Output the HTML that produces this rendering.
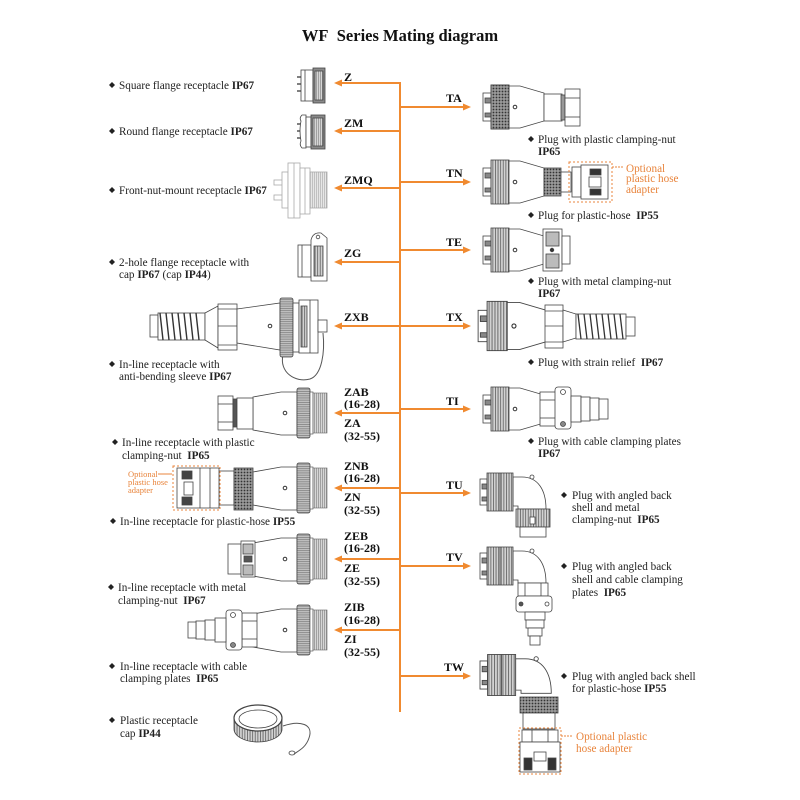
<!DOCTYPE html>
<html><head><meta charset="utf-8"><style>
html,body{margin:0;padding:0;background:#fff;}
svg{display:block;}
text{font-family:"Liberation Serif",serif;fill:#222;}
.d{font-size:11.2px;}
.b{font-weight:bold;}
.l{font-size:12px;font-weight:bold;fill:#111;}
.o{fill:#e8843c;}
</style></head><body>
<svg width="800" height="800" viewBox="0 0 800 800" xmlns="http://www.w3.org/2000/svg">
<defs>
<pattern id="st" width="2.6" height="10" patternUnits="userSpaceOnUse"><rect width="2.6" height="10" fill="#d2d2d2"/><rect width="0.9" height="10" fill="#6a6a6a"/></pattern>
<pattern id="kn" width="3" height="3" patternUnits="userSpaceOnUse"><rect width="3" height="3" fill="#9a9a9a"/><circle cx="1.5" cy="1.5" r="0.9" fill="#333"/></pattern>
<pattern id="thr" width="2" height="10" patternUnits="userSpaceOnUse"><rect width="2" height="10" fill="#d6d6d6"/><rect width="0.7" height="10" fill="#8a8a8a"/></pattern>
<pattern id="thrl" width="2" height="10" patternUnits="userSpaceOnUse"><rect width="2" height="10" fill="#e6e6e6"/><rect width="0.7" height="10" fill="#b0b0b0"/></pattern>
<pattern id="fl" width="10" height="2.2" patternUnits="userSpaceOnUse"><rect width="10" height="2.2" fill="#c0c0c0"/><rect width="10" height="0.7" fill="#7a7a7a"/></pattern>
<g id="ph">
 <rect x="1" y="-14" width="8" height="28" fill="#fff" stroke="#444" stroke-width="0.8"/>
 <rect x="3" y="-9" width="6" height="5" fill="#888"/>
 <rect x="3" y="6" width="6" height="4" fill="#888"/>
 <rect x="9" y="-22" width="18" height="44" fill="url(#st)" stroke="#444" stroke-width="0.8"/>
 <path d="M27,-21 H38 L62,-14 V14 L38,21 H27 Z" fill="#fff" stroke="#444" stroke-width="0.8"/>
 <circle cx="33" cy="0" r="1.8" fill="none" stroke="#333" stroke-width="1"/>
</g>
<g id="ah">
 <rect x="0" y="-13" width="7" height="26" fill="#fff" stroke="#444" stroke-width="0.8"/>
 <rect x="2" y="-8" width="5" height="5" fill="#888"/>
 <rect x="2" y="5" width="5" height="4" fill="#888"/>
 <path d="M33,-15 H42 C58,-15 66,-2 66,17 H38 V14 H33 Z" fill="#fff" stroke="#444" stroke-width="0.8"/>
 <rect x="7" y="-19" width="26" height="38" fill="url(#st)" stroke="#444" stroke-width="0.8"/>
 <line x1="20" y1="-19" x2="20" y2="19" stroke="#444" stroke-width="0.8"/>
 <circle cx="52" cy="-15" r="2" fill="#fff" stroke="#444" stroke-width="0.8"/>
</g>
<g id="rf">
 <path d="M253,-16 L281,-21 H297 V22 H281 L253,17 Z" fill="#fff" stroke="#444" stroke-width="0.8"/>
 <circle cx="285" cy="0" r="1.8" fill="none" stroke="#333" stroke-width="1"/>
 <rect x="297" y="-25" width="13" height="50" rx="2" fill="url(#fl)" stroke="#444" stroke-width="0.8"/>
 <rect x="310" y="-21" width="3" height="42" fill="#fff" stroke="#444" stroke-width="0.6"/>
 <rect x="313" y="-20" width="14" height="40" fill="url(#thr)" stroke="#666" stroke-width="0.6"/>
</g>
</defs>

<!-- Title -->
<text x="400" y="41" text-anchor="middle" style="font-size:16.5px;font-weight:bold;fill:#111">WF&#160; Series Mating diagram</text>

<!-- Orange connector network -->
<g stroke="#f08a30" stroke-width="2" fill="none">
 <line x1="400" y1="82" x2="400" y2="712"/>
 <line x1="340" y1="83" x2="400" y2="83"/>
 <line x1="340" y1="131" x2="400" y2="131"/>
 <line x1="340" y1="188" x2="400" y2="188"/>
 <line x1="340" y1="262" x2="400" y2="262"/>
 <line x1="340" y1="326" x2="400" y2="326"/>
 <line x1="340" y1="413" x2="400" y2="413"/>
 <line x1="340" y1="488" x2="400" y2="488"/>
 <line x1="340" y1="559" x2="400" y2="559"/>
 <line x1="340" y1="630" x2="400" y2="630"/>
 <line x1="400" y1="107" x2="465" y2="107"/>
 <line x1="400" y1="182" x2="465" y2="182"/>
 <line x1="400" y1="250" x2="465" y2="250"/>
 <line x1="400" y1="326" x2="465" y2="326"/>
 <line x1="400" y1="409" x2="465" y2="409"/>
 <line x1="400" y1="493" x2="465" y2="493"/>
 <line x1="400" y1="566" x2="465" y2="566"/>
 <line x1="400" y1="676" x2="465" y2="676"/>
</g>
<g fill="#f08a30">
 <polygon points="334,83 342,79.5 342,86.5"/>
 <polygon points="334,131 342,127.5 342,134.5"/>
 <polygon points="334,188 342,184.5 342,191.5"/>
 <polygon points="334,262 342,258.5 342,265.5"/>
 <polygon points="334,326 342,322.5 342,329.5"/>
 <polygon points="334,413 342,409.5 342,416.5"/>
 <polygon points="334,488 342,484.5 342,491.5"/>
 <polygon points="334,559 342,555.5 342,562.5"/>
 <polygon points="334,630 342,626.5 342,633.5"/>
 <polygon points="471,107 463,103.5 463,110.5"/>
 <polygon points="471,182 463,178.5 463,185.5"/>
 <polygon points="471,250 463,246.5 463,253.5"/>
 <polygon points="471,326 463,322.5 463,329.5"/>
 <polygon points="471,409 463,405.5 463,412.5"/>
 <polygon points="471,493 463,489.5 463,496.5"/>
 <polygon points="471,566 463,562.5 463,569.5"/>
 <polygon points="471,676 463,672.5 463,679.5"/>
</g>

<!-- Left labels -->
<text class="l" x="344" y="81">Z</text>
<text class="l" x="344" y="127">ZM</text>
<text class="l" x="344" y="184">ZMQ</text>
<text class="l" x="344" y="257">ZG</text>
<text class="l" x="344" y="321">ZXB</text>
<text class="l" x="344" y="396">ZAB</text><text class="l" x="344" y="408">(16-28)</text>
<text class="l" x="344" y="427">ZA</text><text class="l" x="344" y="440">(32-55)</text>
<text class="l" x="344" y="470">ZNB</text><text class="l" x="344" y="482">(16-28)</text>
<text class="l" x="344" y="501">ZN</text><text class="l" x="344" y="514">(32-55)</text>
<text class="l" x="344" y="540">ZEB</text><text class="l" x="344" y="552">(16-28)</text>
<text class="l" x="344" y="572">ZE</text><text class="l" x="344" y="585">(32-55)</text>
<text class="l" x="344" y="611">ZIB</text><text class="l" x="344" y="624">(16-28)</text>
<text class="l" x="344" y="643">ZI</text><text class="l" x="344" y="656">(32-55)</text>

<!-- Right labels -->
<text class="l" x="446" y="102">TA</text>
<text class="l" x="446" y="177">TN</text>
<text class="l" x="446" y="246">TE</text>
<text class="l" x="446" y="321">TX</text>
<text class="l" x="446" y="405">TI</text>
<text class="l" x="446" y="489">TU</text>
<text class="l" x="446" y="561">TV</text>
<text class="l" x="444" y="671">TW</text>

<!-- Diamonds -->
<g fill="#222">
 <polygon points="112,82 115,85 112,88 109,85"/>
 <polygon points="112,128 115,131 112,134 109,131"/>
 <polygon points="112,187 115,190 112,193 109,190"/>
 <polygon points="112,259 115,262 112,265 109,262"/>
 <polygon points="112,361 115,364 112,367 109,364"/>
 <polygon points="115,439 118,442 115,445 112,442"/>
 <polygon points="113,518 116,521 113,524 110,521"/>
 <polygon points="111,584 114,587 111,590 108,587"/>
 <polygon points="112,663 115,666 112,669 109,666"/>
 <polygon points="112,717 115,720 112,723 109,720"/>
 <polygon points="531,136 534,139 531,142 528,139"/>
 <polygon points="531,212 534,215 531,218 528,215"/>
 <polygon points="531,278 534,281 531,284 528,281"/>
 <polygon points="531,359 534,362 531,365 528,362"/>
 <polygon points="531,438 534,441 531,444 528,441"/>
 <polygon points="564,492 567,495 564,498 561,495"/>
 <polygon points="564,563 567,566 564,569 561,566"/>
 <polygon points="564,673 567,676 564,679 561,676"/>
</g>

<!-- Left descriptions -->
<text class="d" x="119" y="89">Square flange receptacle <tspan class="b">IP67</tspan></text>
<text class="d" x="119" y="135">Round flange receptacle <tspan class="b">IP67</tspan></text>
<text class="d" x="119" y="194">Front-nut-mount receptacle <tspan class="b">IP67</tspan></text>
<text class="d" x="119" y="266">2-hole flange receptacle with</text>
<text class="d" x="119" y="278">cap <tspan class="b">IP67</tspan> (cap <tspan class="b">IP44</tspan>)</text>
<text class="d" x="119" y="368">In-line receptacle with</text>
<text class="d" x="119" y="380">anti-bending sleeve <tspan class="b">IP67</tspan></text>
<text class="d" x="122" y="446">In-line receptacle with plastic</text>
<text class="d" x="122" y="459">clamping-nut&#160; <tspan class="b">IP65</tspan></text>
<text class="d" x="120" y="525">In-line receptacle for plastic-hose <tspan class="b">IP55</tspan></text>
<text class="d" x="118" y="591">In-line receptacle with metal</text>
<text class="d" x="118" y="604">clamping-nut&#160; <tspan class="b">IP67</tspan></text>
<text class="d" x="120" y="670">In-line receptacle with cable</text>
<text class="d" x="120" y="682">clamping plates&#160; <tspan class="b">IP65</tspan></text>
<text class="d" x="120" y="724">Plastic receptacle</text>
<text class="d" x="120" y="737">cap <tspan class="b">IP44</tspan></text>

<!-- Right descriptions -->
<text class="d" x="538" y="143">Plug with plastic clamping-nut</text>
<text class="d b" x="538" y="155">IP65</text>
<text class="d" x="538" y="219">Plug for plastic-hose&#160; <tspan class="b">IP55</tspan></text>
<text class="d" x="538" y="285">Plug with metal clamping-nut</text>
<text class="d b" x="538" y="297">IP67</text>
<text class="d" x="538" y="366">Plug with strain relief&#160; <tspan class="b">IP67</tspan></text>
<text class="d" x="538" y="445">Plug with cable clamping plates</text>
<text class="d b" x="538" y="457">IP67</text>
<text class="d" x="572" y="499">Plug with angled back</text>
<text class="d" x="572" y="511">shell and metal</text>
<text class="d" x="572" y="523">clamping-nut&#160; <tspan class="b">IP65</tspan></text>
<text class="d" x="572" y="570">Plug with angled back</text>
<text class="d" x="572" y="583">shell and cable clamping</text>
<text class="d" x="572" y="596">plates&#160; <tspan class="b">IP65</tspan></text>
<text class="d" x="572" y="680">Plug with angled back shell</text>
<text class="d" x="572" y="692">for plastic-hose <tspan class="b">IP55</tspan></text>

<!-- Orange optional texts -->
<text class="d o" x="626" y="172">Optional</text>
<text class="d o" x="626" y="182">plastic hose</text>
<text class="d o" x="626" y="193">adapter</text>
<line x1="612" y1="167" x2="623" y2="167" stroke="#e8843c" stroke-width="1" stroke-dasharray="2,1"/>
<text class="o" x="576" y="740" style="font-size:11.2px">Optional plastic</text>
<text class="o" x="576" y="752" style="font-size:11.2px">hose adapter</text>
<line x1="561" y1="736" x2="573" y2="736" stroke="#e8843c" stroke-width="1" stroke-dasharray="2,1"/>
<text class="o" x="128" y="477" style="font-size:8.5px">Optional</text>
<text class="o" x="128" y="485" style="font-size:8.5px">plastic hose</text>
<text class="o" x="128" y="493" style="font-size:8.5px">adapter</text>
<line x1="158" y1="474" x2="172" y2="474" stroke="#e8843c" stroke-width="1"/>

<!-- ===== RIGHT SIDE PLUGS ===== -->
<g stroke="#444" stroke-width="0.8">
<!-- TA -->
<use href="#ph" x="482" y="107"/>
<rect x="491" y="85" width="18" height="44" fill="url(#kn)"/>
<rect x="544" y="94" width="18" height="27" fill="#fff"/>
<rect x="561" y="95" width="4" height="25" fill="#999"/>
<rect x="565" y="89" width="15" height="37" fill="#fff"/>
<line x1="565" y1="98" x2="580" y2="98"/><line x1="565" y1="117" x2="580" y2="117"/>
<!-- TN -->
<use href="#ph" x="482" y="182"/>
<rect x="544" y="168" width="17" height="28" fill="url(#kn)"/>
<rect x="561" y="172" width="10" height="20" fill="#fff"/>
<rect x="572" y="167" width="9" height="30" fill="#fff"/>
<rect x="581" y="165" width="27" height="34" fill="#fff"/>
<rect x="590" y="169" width="11" height="6" fill="#333"/>
<rect x="590" y="189" width="11" height="6" fill="#333"/>
<rect x="589" y="177" width="12" height="10" fill="#fff"/>
<rect x="569" y="162" width="43" height="40" fill="none" stroke="#e8843c" stroke-width="1" stroke-dasharray="2,2"/>
<!-- TE -->
<use href="#ph" x="482" y="250"/>
<rect x="543" y="229" width="19" height="42" fill="#fff"/>
<rect x="546" y="232" width="13" height="14" fill="#bbb"/>
<rect x="546" y="254" width="13" height="14" fill="#bbb"/>
<circle cx="552" cy="250" r="1.8" fill="#333"/>
<rect x="562" y="236" width="8" height="28" fill="#fff"/>
<!-- TX -->
<use href="#ph" transform="translate(477,326) scale(1.12)"/>
<rect x="545" y="305" width="18" height="43" fill="#fff"/>
<line x1="545" y1="326" x2="563" y2="326"/>
<line x1="545" y1="311" x2="563" y2="311"/><line x1="545" y1="342" x2="563" y2="342"/>
<path d="M563,310 L576,314 V338 L563,342 Z" fill="#fff"/>
<rect x="576" y="314" width="50" height="25" fill="#fff"/>
<path d="M578,314 L581,339 M584,314 L587,339 M590,314 L593,339 M596,314 L599,339 M602,314 L605,339 M608,314 L611,339 M614,314 L617,339 M620,314 L623,339" stroke="#333" stroke-width="1.3" fill="none"/>
<rect x="626" y="317" width="9" height="19" fill="#fff"/>
<!-- TI -->
<use href="#ph" x="482" y="409"/>
<rect x="540" y="392" width="16" height="34" fill="#fff"/>
<line x1="540" y1="400" x2="556" y2="400"/><line x1="540" y1="418" x2="556" y2="418"/>
<rect x="555" y="387" width="16" height="42" rx="3" fill="#fff"/>
<circle cx="563" cy="392" r="2.5" fill="#fff"/><circle cx="563" cy="424" r="2.5" fill="#888"/>
<rect x="571" y="396" width="10" height="26" fill="#fff"/>
<rect x="581" y="397" width="9" height="24" fill="#fff"/>
<rect x="590" y="398" width="9" height="22" fill="#fff"/>
<rect x="599" y="399" width="9" height="20" fill="#fff"/>
<!-- TU -->
<use href="#ah" x="480" y="492"/>
<rect x="516" y="509" width="34" height="18" fill="url(#st)"/>
<rect x="530" y="517" width="5" height="7" fill="#fff"/>
<rect x="520" y="527" width="26" height="10" fill="#fff"/>
<!-- TV -->
<use href="#ah" x="480" y="566"/>
<rect x="518" y="583" width="30" height="13" fill="#fff"/>
<line x1="525" y1="583" x2="525" y2="596"/><line x1="541" y1="583" x2="541" y2="596"/>
<rect x="516" y="596" width="36" height="16" rx="3" fill="#fff"/>
<circle cx="521" cy="604" r="2" fill="#555"/><circle cx="547" cy="604" r="2" fill="#fff"/>
<rect x="525" y="612" width="20" height="8" fill="#fff"/>
<rect x="526" y="620" width="18" height="8" fill="#fff"/>
<rect x="528" y="628" width="14" height="8" fill="#fff"/>
<rect x="530" y="636" width="10" height="9" fill="#fff"/>
<!-- TW -->
<use href="#ah" transform="translate(480,675) scale(1.08)"/>
<rect x="520" y="697" width="38" height="16" fill="url(#kn)"/>
<rect x="523" y="713" width="32" height="16" fill="#fff"/>
<rect x="522" y="730" width="36" height="12" fill="#fff"/>
<line x1="532" y1="730" x2="532" y2="742"/><line x1="548" y1="730" x2="548" y2="742"/>
<rect x="520" y="742" width="40" height="30" fill="#fff"/>
<rect x="524" y="758" width="8" height="12" fill="#333"/>
<rect x="548" y="758" width="8" height="12" fill="#333"/>
<rect x="534" y="752" width="12" height="9" fill="#fff"/>
<rect x="519" y="728" width="42" height="46" fill="none" stroke="#e8843c" stroke-width="1" stroke-dasharray="2,2"/>
</g>

<!-- ===== LEFT SIDE RECEPTACLES ===== -->
<g stroke="#444" stroke-width="0.8">
<!-- Z -->
<g stroke="#555" stroke-width="1.5"><line x1="297" y1="77" x2="302" y2="77"/><line x1="297" y1="84" x2="302" y2="84"/><line x1="297" y1="91" x2="302" y2="91"/></g>
<rect x="301" y="70" width="12" height="31" fill="#fff"/>
<line x1="305" y1="70" x2="305" y2="101"/>
<rect x="313" y="68" width="12" height="35" fill="#8a8a8a"/>
<rect x="315" y="71" width="8" height="29" fill="url(#thr)"/>
<!-- ZM -->
<g stroke="#555" stroke-width="1.5"><line x1="297" y1="124" x2="302" y2="124"/><line x1="297" y1="131" x2="302" y2="131"/><line x1="297" y1="138" x2="302" y2="138"/></g>
<path d="M302,115 Q299,118 301,121 Q299,131 301,141 Q299,145 302,148 H306 V115 Z" fill="#fff"/>
<rect x="306" y="117" width="5" height="30" fill="#fff"/>
<rect x="311" y="115" width="14" height="34" fill="#8a8a8a"/>
<rect x="313" y="118" width="10" height="28" fill="url(#thr)"/>
<!-- ZMQ -->
<g stroke="#aaa" stroke-width="0.8">
<rect x="274" y="180" width="14" height="5" fill="#fff"/>
<rect x="274" y="195" width="14" height="5" fill="#fff"/>
<rect x="282" y="172" width="6" height="36" fill="#fff"/>
<rect x="288" y="163" width="12" height="55" fill="#fff"/>
<line x1="294" y1="163" x2="294" y2="218"/>
<rect x="300" y="168" width="10" height="46" fill="#fff"/>
<line x1="305" y1="168" x2="305" y2="214"/>
<rect x="310" y="172" width="17" height="36" fill="url(#thrl)"/>
</g>
<!-- ZG -->
<rect x="298" y="245" width="13" height="32" fill="#fff"/>
<line x1="302" y1="245" x2="302" y2="277"/>
<path d="M311,240 Q313,232 321,233 L327,238 V281 H311 Z" fill="#fff"/>
<rect x="314" y="246" width="9" height="30" fill="url(#st)"/>
<circle cx="318" cy="237" r="1.8" fill="#fff"/>
<!-- ZXB -->
<rect x="150" y="315" width="8" height="22" fill="#fff"/>
<rect x="158" y="313" width="47" height="27" fill="#fff"/>
<path d="M160,313 L163,340 M166,313 L169,340 M172,313 L175,340 M178,313 L181,340 M184,313 L187,340 M190,313 L193,340 M196,313 L199,340" stroke="#333" stroke-width="1.4" fill="none"/>
<path d="M205,313 L218,306 V348 L205,340 Z" fill="#fff"/>
<rect x="218" y="304" width="19" height="46" fill="#fff"/>
<line x1="218" y1="326" x2="237" y2="326"/><line x1="218" y1="309" x2="237" y2="309"/><line x1="218" y1="345" x2="237" y2="345"/>
<path d="M237,309 L280,303 V350 L237,343 Z" fill="#fff"/>
<circle cx="270" cy="326" r="1.8" fill="none" stroke="#333" stroke-width="1"/>
<path d="M283,355 C279,372 295,383 310,379 C322,375 325,352 323,333" fill="none" stroke="#555" stroke-width="1"/>
<rect x="280" y="298" width="13" height="59" rx="2" fill="url(#fl)"/>
<rect x="293" y="303" width="6" height="49" fill="#fff"/>
<rect x="299" y="300" width="19" height="53" fill="#fff"/>
<rect x="301" y="306" width="6" height="41" fill="url(#st)"/>
<line x1="310" y1="300" x2="310" y2="353"/>
<rect x="318" y="320" width="9" height="12" fill="#fff"/>
<!-- ZAB -->
<use href="#rf" x="0" y="413"/>
<rect x="218" y="396" width="15" height="34" fill="#fff"/>
<line x1="218" y1="404" x2="233" y2="404"/><line x1="218" y1="422" x2="233" y2="422"/>
<rect x="233" y="399" width="4" height="28" fill="#555"/>
<rect x="237" y="398" width="16" height="31" fill="#fff"/>
<!-- ZNB -->
<use href="#rf" x="0" y="488"/>
<rect x="219" y="471" width="15" height="34" fill="#fff"/>
<rect x="234" y="468" width="19" height="42" fill="url(#kn)"/>
<rect x="177" y="468" width="42" height="40" fill="#fff"/>
<line x1="200" y1="468" x2="200" y2="508"/><line x1="210" y1="468" x2="210" y2="508"/>
<rect x="182" y="471" width="10" height="8" fill="#444"/>
<rect x="182" y="497" width="10" height="8" fill="#444"/>
<rect x="184" y="482" width="9" height="13" fill="#fff"/>
<rect x="173" y="466" width="47" height="44" fill="none" stroke="#e8843c" stroke-width="1" stroke-dasharray="2,2"/>
<!-- ZEB -->
<use href="#rf" x="0" y="559"/>
<rect x="228" y="544" width="13" height="30" fill="#fff"/>
<rect x="241" y="541" width="14" height="36" fill="#fff"/>
<rect x="243" y="544" width="10" height="10" fill="#bbb"/>
<rect x="243" y="565" width="10" height="10" fill="#bbb"/>
<rect x="244" y="556" width="8" height="6" fill="#555"/>
<!-- ZIB -->
<use href="#rf" x="0" y="630"/>
<rect x="242" y="613" width="15" height="34" fill="#fff"/>
<line x1="242" y1="621" x2="257" y2="621"/><line x1="242" y1="639" x2="257" y2="639"/>
<rect x="226" y="610" width="16" height="40" rx="3" fill="#fff"/>
<circle cx="233" cy="615" r="2.5" fill="#fff"/><circle cx="233" cy="645" r="2.5" fill="#888"/>
<rect x="215" y="618" width="11" height="24" fill="#fff"/>
<rect x="205" y="620" width="10" height="20" fill="#fff"/>
<rect x="196" y="621" width="9" height="18" fill="#fff"/>
<rect x="188" y="622" width="8" height="16" fill="#fff"/>
<!-- Cap -->
<path d="M283,726 C300,720 314,724 309,738 C306,747 300,750 294,754" fill="none" stroke="#555" stroke-width="1"/>
<ellipse cx="292" cy="753" rx="3" ry="2" fill="none"/>
<path d="M234,718 V729 A24,13 0 0 0 282,729 V718 Z" fill="url(#st)"/>
<ellipse cx="258" cy="718" rx="24" ry="13" fill="#fff" stroke-width="1.2"/>
<ellipse cx="258" cy="719" rx="19" ry="9" fill="#fff"/>
</g>
</svg>
</body></html>
